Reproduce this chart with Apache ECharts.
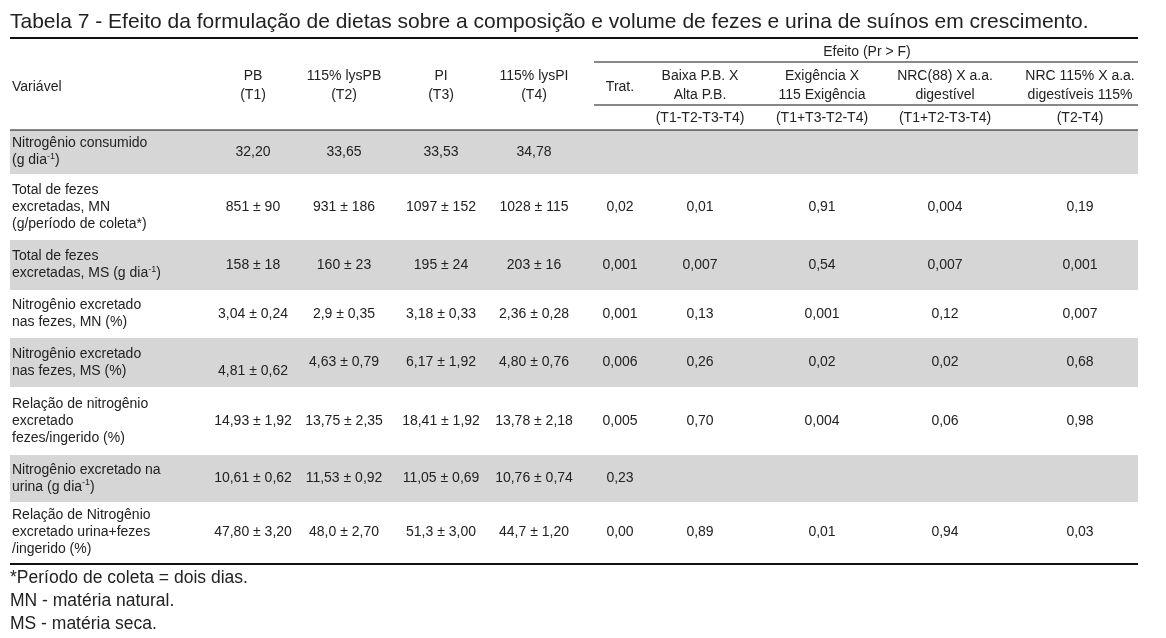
<!DOCTYPE html><html><head><meta charset="utf-8">
<script src="https://cdn.jsdelivr.net/npm/echarts@6/dist/echarts.min.js"></script>
<style>html,body{margin:0;background:#fff}#c{width:1166px;height:638px}</style></head><body><div id="c"></div><script>
const title = "Tabela 7 - Efeito da formulação de dietas sobre a composição e volume de fezes e urina de suínos em crescimento.";
const treatHeaders = [["PB","(T1)"],["115% lysPB","(T2)"],["PI","(T3)"],["115% lysPI","(T4)"]];
const effHeaders = [["Trat."],["Baixa P.B. X","Alta P.B."],["Exigência X","115 Exigência"],["NRC(88) X a.a.","digestível"],["NRC 115% X a.a.","digestíveis 115%"]];
const contrasts = ["","(T1-T2-T3-T4)","(T1+T3-T2-T4)","(T1+T2-T3-T4)","(T2-T4)"];
const rowLabels = [
 ["Nitrogênio consumido","(g dia{s|-1})"],
 ["Total de fezes","excretadas, MN","(g/período de coleta*)"],
 ["Total de fezes","excretadas, MS (g dia{s|-1})"],
 ["Nitrogênio excretado","nas fezes, MN (%)"],
 ["Nitrogênio excretado","nas fezes, MS (%)"],
 ["Relação de nitrogênio","excretado","fezes/ingerido (%)"],
 ["Nitrogênio excretado na","urina (g dia{s|-1})"],
 ["Relação de Nitrogênio","excretado urina+fezes","/ingerido (%)"]
];
const treatValues = [
 ["32,20","33,65","33,53","34,78"],
 ["851 ± 90","931 ± 186","1097 ± 152","1028 ± 115"],
 ["158 ± 18","160 ± 23","195 ± 24","203 ± 16"],
 ["3,04 ± 0,24","2,9 ± 0,35","3,18 ± 0,33","2,36 ± 0,28"],
 ["4,81 ± 0,62","4,63 ± 0,79","6,17 ± 1,92","4,80 ± 0,76"],
 ["14,93 ± 1,92","13,75 ± 2,35","18,41 ± 1,92","13,78 ± 2,18"],
 ["10,61 ± 0,62","11,53 ± 0,92","11,05 ± 0,69","10,76 ± 0,74"],
 ["47,80 ± 3,20","48,0 ± 2,70","51,3 ± 3,00","44,7 ± 1,20"]
];
const effValues = [
 [],
 ["0,02","0,01","0,91","0,004","0,19"],
 ["0,001","0,007","0,54","0,007","0,001"],
 ["0,001","0,13","0,001","0,12","0,007"],
 ["0,006","0,26","0,02","0,02","0,68"],
 ["0,005","0,70","0,004","0,06","0,98"],
 ["0,23"],
 ["0,00","0,89","0,01","0,94","0,03"]
];
const footnotes = ["*Período de coleta = dois dias.","MN - matéria natural.","MS - matéria seca."];

const F = 'Liberation Sans, Arial, sans-serif';
const rowTops=[130,174,240,290,338,387,455,502,563];
const tX=[253,344,441,534], eX=[620,700,822,945,1080];
const g=[];
function txt(x,y,s,align,size){g.push({type:'text',x,y,style:{text:s,font:(size||14)+'px '+F,fill:'#222',align:align||'center',verticalAlign:'middle',lineHeight:17,rich:{s:{fontSize:9,verticalAlign:'top',padding:[0,0,6,0],fill:'#222'}}}});}
function line(x1,y1,x2,y2,w){g.push({type:'line',shape:{x1,y1,x2,y2},style:{stroke:'#111',lineWidth:w}});}
rowLabels.forEach((r,i)=>{if(i%2===0)g.push({type:'rect',shape:{x:10,y:rowTops[i],width:1128,height:rowTops[i+1]-rowTops[i]},style:{fill:'#d6d6d6'}});});
txt(10,22,title,'left',21);
line(10,38,1138,38,2);
txt(867,52,'Efeito (Pr > F)');
line(594,62,1138,62,1);
txt(12,87,'Variável','left');
treatHeaders.forEach((h,j)=>{txt(tX[j],76,h[0]);txt(tX[j],95,h[1]);});
effHeaders.forEach((h,j)=>{if(h.length===1)txt(eX[j],87,h[0]);else{txt(eX[j],76,h[0]);txt(eX[j],95,h[1]);}});
line(594,105,1138,105,1);
contrasts.forEach((c,j)=>txt(eX[j],118,c));
line(10,130,1138,130,1);
rowLabels.forEach((r,i)=>{
 const top=rowTops[i],bot=rowTops[i+1],mid=(top+bot)/2;
 const y0=mid-(r.length-1)*17/2;
 r.forEach((s,k)=>txt(12,y0+k*17,s,'left'));
 treatValues[i].forEach((v,j)=>txt(tX[j],(i===4&&j===0)?mid+9:mid,v));
 effValues[i].forEach((v,j)=>txt(eX[j],mid,v));
});
line(10,564,1138,564,2);
footnotes.forEach((f,k)=>txt(10,578+k*23,f,'left',17.5));
const ch=echarts.init(document.getElementById('c'));
ch.setOption({graphic:{elements:g}});
</script></body></html>
